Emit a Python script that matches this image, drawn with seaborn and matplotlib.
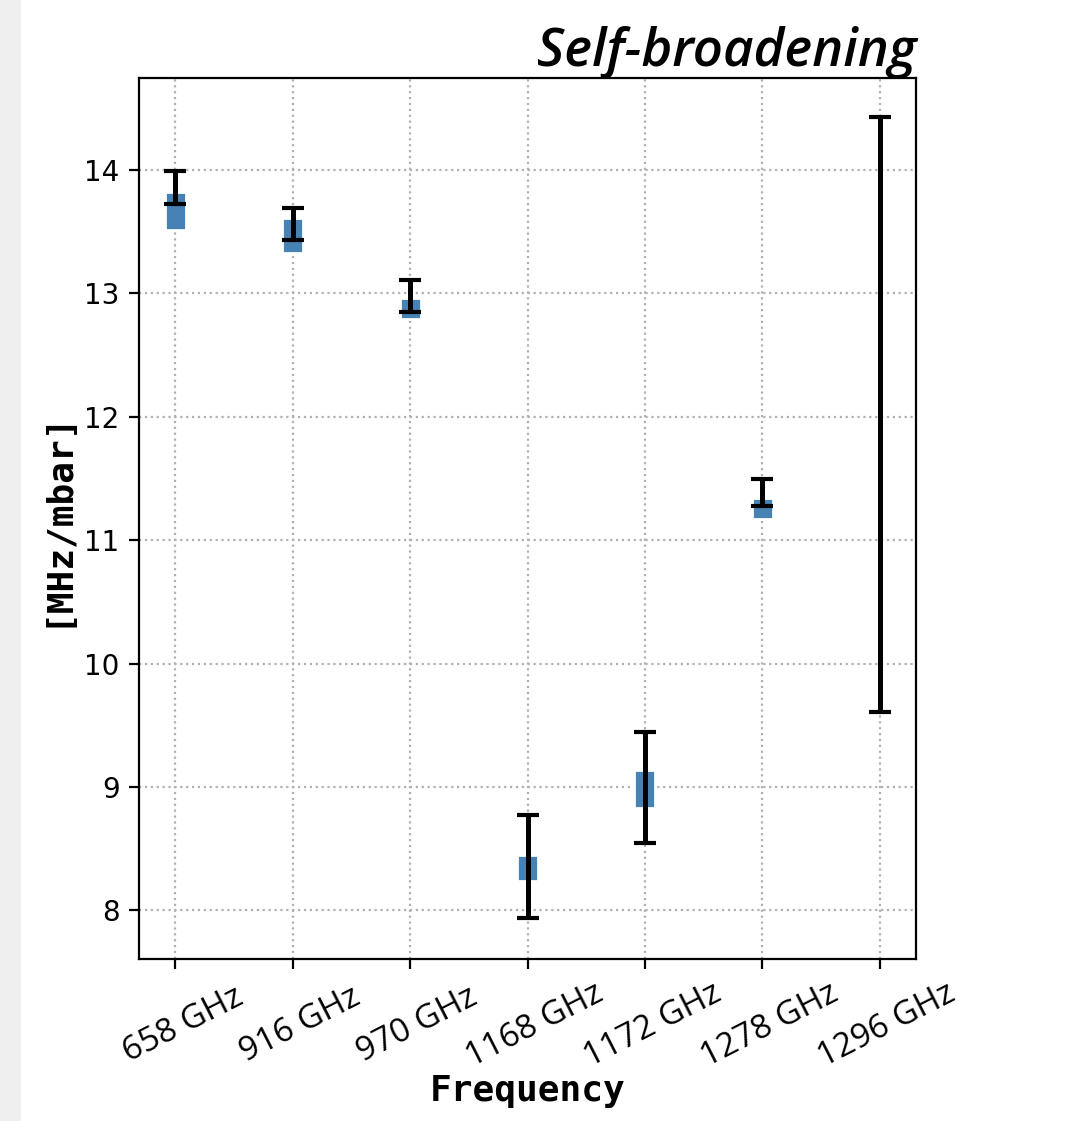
import numpy as np
import matplotlib
matplotlib.use("Agg")
import matplotlib.pyplot as plt
import seaborn as sns

# ---- data ----
freqs = ["658 GHz", "916 GHz", "970 GHz", "1168 GHz", "1172 GHz", "1278 GHz", "1296 GHz"]
box_low = [13.51, 13.33, 12.79, 8.24, 8.83, 11.17, np.nan]
box_high = [13.82, 13.61, 12.96, 8.45, 9.14, 11.34, np.nan]
err_center = [13.72, 13.43, 12.85, 8.355, 8.996, 11.28, 12.02]
err_lo = [0.0, 0.0, 0.0, 0.415, 0.45, 0.0, 2.41]
err_hi = [0.27, 0.26, 0.255, 0.415, 0.45, 0.215, 2.41]

sns.set_theme(style="white")
plt.rcParams["font.family"] = ["DejaVu Sans"]
plt.rcParams["text.color"] = "black"
plt.rcParams["axes.labelcolor"] = "black"

fig = plt.figure(figsize=(5.33, 5.605), dpi=200)
ax = fig.add_axes([0.1304, 0.1445, 0.7289, 0.7859])

# screenshot frame on the left
fig.patches.append(plt.Rectangle((0, 0), 0.018, 1, transform=fig.transFigure,
                                 color="#efefef", zorder=-5))

x = np.arange(len(freqs))
heights = np.array(box_high) - np.array(box_low)
ax.bar(x, heights, bottom=box_low, width=0.18, color="steelblue", zorder=2)
ax.errorbar(x, err_center, yerr=[err_lo, err_hi], fmt="none", ecolor="black",
            elinewidth=1.8, capsize=4, capthick=1.5, zorder=3)

ax.set_xlim(-0.31, 6.31)
ax.set_ylim(7.605, 14.745)
ax.set_xticks(x)
ax.set_xticklabels(freqs, rotation=27, ha="center", rotation_mode="anchor", va="top",
                   family=["Open Sans", "DejaVu Sans"], fontsize=12)
ax.set_yticks([8, 9, 10, 11, 12, 13, 14])
ax.tick_params(axis="both", direction="out", length=3.5, width=0.8, color="black",
               labelsize=10, labelcolor="black", bottom=True, left=True)
ax.tick_params(axis="x", labelsize=12, pad=15)

ax.grid(True, linestyle=":", color="#b0b0b0", linewidth=0.8)
ax.set_axisbelow(True)
for s in ax.spines.values():
    s.set_color("black")
    s.set_linewidth(0.8)

ax.set_xlabel("Frequency", family="DejaVu Sans Mono", fontweight="bold", fontsize=13,
              labelpad=0)
ax.set_ylabel("[MHz/mbar]", family="DejaVu Sans Mono", fontweight="bold", fontsize=13)
ax.set_title("Self-broadening", loc="right", fontsize=19, fontweight="semibold",
             style="italic", family=["Open Sans", "DejaVu Sans"], pad=4.5)

fig.savefig("out.png", dpi=200)
